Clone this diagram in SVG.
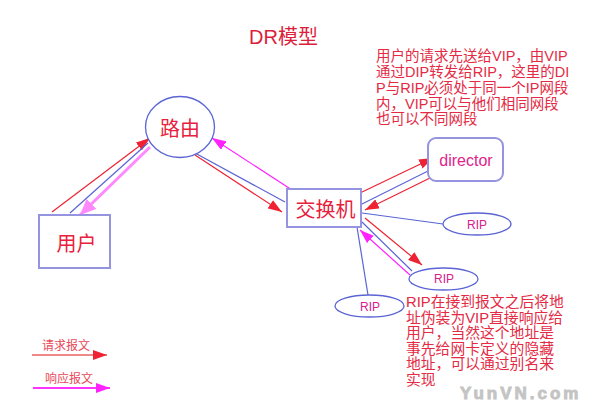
<svg xmlns="http://www.w3.org/2000/svg" width="589" height="405" viewBox="0 0 589 405">
<defs>
<style>
.cjk{font-family:"Liberation Sans","Noto Sans CJK SC",sans-serif;}
.lbl{font-size:20px;fill:#e8203c;}
.rip{font-size:12px;fill:#d8208c;}
.rect{fill:#fff;stroke:#9494e0;stroke-width:2;}
.ell{fill:#fff;stroke:#5a64d4;stroke-width:1.3;}
.note{font-size:14.5px;fill:#e42a44;}
.note2{font-size:14.8px;fill:#e42a44;}
.r{stroke:#ee2233;stroke-width:1.2;fill:none;}
.b{stroke:#5a64d4;stroke-width:1.2;fill:none;}
.m{stroke:#ff22ff;stroke-width:1.2;fill:none;}
</style>
<marker id="ar" markerUnits="userSpaceOnUse" viewBox="0 0 14 10" refX="14" refY="5" markerWidth="14" markerHeight="10" orient="auto"><path d="M0,0 L14,5 L0,10 z" fill="#ee2233"/></marker>
<marker id="am" markerUnits="userSpaceOnUse" viewBox="0 0 14 10" refX="14" refY="5" markerWidth="14" markerHeight="10" orient="auto"><path d="M0,0 L14,5 L0,10 z" fill="#ff22ff"/></marker>
<marker id="ap" markerUnits="userSpaceOnUse" viewBox="0 0 16 14" refX="16" refY="7" markerWidth="16" markerHeight="14" orient="auto"><path d="M0,0 L16,7 L0,14 z" fill="#ff88ff"/></marker>
</defs>
<rect width="589" height="405" fill="#fff"/>
<text class="cjk" x="249" y="44" font-size="20" fill="#dc1e3c">DR模型</text>

<g id="connectors">
<line class="r" x1="52" y1="212" x2="150" y2="138" marker-end="url(#ar)"/>
<line class="b" x1="70" y1="213" x2="148" y2="143"/>
<line x1="150" y1="147" x2="80" y2="215" stroke="#ff88ff" stroke-width="3" marker-end="url(#ap)"/>
<line class="m" x1="292" y1="190" x2="212" y2="138" marker-end="url(#am)"/>
<line class="b" x1="195" y1="153" x2="285" y2="202"/>
<line class="r" x1="195" y1="155" x2="282" y2="212" marker-end="url(#ar)"/>
<line class="r" x1="360" y1="193" x2="433" y2="158" marker-end="url(#ar)"/>
<line class="b" x1="360" y1="205" x2="430" y2="170"/>
<line class="r" x1="430" y1="178" x2="365" y2="210" marker-end="url(#ar)"/>
<line class="b" x1="362" y1="213" x2="443" y2="224"/>
<line class="r" x1="365" y1="218" x2="422" y2="265" marker-end="url(#ar)"/>
<line class="b" x1="362" y1="222" x2="412" y2="271"/>
<line class="m" x1="410" y1="275" x2="360" y2="230" marker-end="url(#am)"/>
<line class="b" x1="357" y1="227" x2="368" y2="295"/>
</g>

<g id="router">
<ellipse class="ell" cx="180" cy="127" rx="34.5" ry="30.5"/>
<text class="cjk lbl" x="180" y="136" text-anchor="middle">路由</text>
</g>
<g id="user">
<rect class="rect" x="39" y="215" width="71" height="53"/>
<text class="cjk lbl" x="76.5" y="251" text-anchor="middle">用户</text>
</g>
<g id="switch">
<rect class="rect" x="287" y="189" width="74" height="38"/>
<text class="cjk lbl" x="325.5" y="217" text-anchor="middle">交换机</text>
</g>
<g id="director">
<rect class="rect" x="428" y="138" width="75" height="43" rx="8"/>
<text class="cjk" x="466" y="166" font-size="16" fill="#e0248c" text-anchor="middle">director</text>
</g>
<g id="rip1">
<ellipse class="ell" cx="477" cy="224" rx="34" ry="11"/>
<text class="cjk rip" x="477" y="228.5" text-anchor="middle">RIP</text>
</g>
<g id="rip2">
<ellipse class="ell" cx="443.5" cy="279" rx="34.5" ry="11"/>
<text class="cjk rip" x="444" y="283" text-anchor="middle">RIP</text>
</g>
<g id="rip3">
<ellipse class="ell" cx="369.5" cy="306" rx="34.5" ry="11"/>
<text class="cjk rip" x="370" y="310.5" text-anchor="middle">RIP</text>
</g>

<g id="note1" class="cjk note">
<text x="376" y="61">用户的请求先送给VIP，由VIP</text>
<text x="376" y="77">通过DIP转发给RIP，这里的DI</text>
<text x="376" y="93">P与RIP必须处于同一个IP网段</text>
<text x="376" y="108.5">内，VIP可以与他们相同网段</text>
<text x="376" y="124">也可以不同网段</text>
</g>
<g id="note2" class="cjk note2">
<text x="406" y="307">RIP在接到报文之后将地</text>
<text x="406" y="322.6">址伪装为VIP直接响应给</text>
<text x="406" y="338.2">用户，当然这个地址是</text>
<text x="406" y="353.8">事先给网卡定义的隐藏</text>
<text x="406" y="369.4">地址，可以通过别名来</text>
<text x="406" y="385">实现</text>
</g>

<g id="legend">
<text class="cjk" x="42" y="350" font-size="12" fill="#e84a5a">请求报文</text>
<line x1="32" y1="355" x2="107" y2="355" stroke="#f08888" stroke-width="2" marker-end="url(#ar)"/>
<text class="cjk" x="45" y="383" font-size="12" fill="#e84a5a">响应报文</text>
<line x1="33" y1="388" x2="110" y2="388" stroke="#ff33ff" stroke-width="2" marker-end="url(#am)"/>
</g>

<text x="460" y="399" font-family="Liberation Sans, sans-serif" font-weight="bold" font-size="17" letter-spacing="3" stroke="#c4c4c4" stroke-width="0.9" fill="#c4c4c4">YunVN.com</text>
</svg>
